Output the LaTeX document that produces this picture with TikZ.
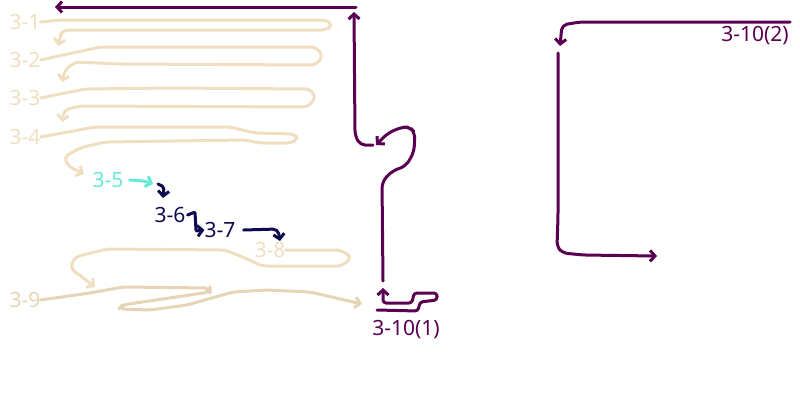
\documentclass[tikz,border=0pt]{standalone}
\usepackage{fontspec}
\setmainfont{Noto Sans}
\usepackage{tikz}
\usetikzlibrary{arrows.meta}
\definecolor{corbege}{RGB}{240,222,192}
\definecolor{cortan}{RGB}{230,212,182}
\definecolor{corciano}{RGB}{102,234,214}
\definecolor{cormarinho}{RGB}{14,10,78}
\definecolor{corroxo}{RGB}{90,0,82}

\begin{document}
\begin{tikzpicture}[
  x=1pt, y=-1pt,
  rotulo/.style={font=\fontsize{21}{24}\selectfont, inner sep=0pt},
  traco/.style={line width=3pt, rounded corners=5pt, line cap=round, line join=round},
  seta/.style={-{Straight Barb[length=5pt,width=11pt]}}
]
  \useasboundingbox (0,0) rectangle (800,400);

  \node[rotulo, text=corbege] (l31) at (25,22) {3-1};
  \node[rotulo, text=corbege] (l32) at (25,60) {3-2};
  \node[rotulo, text=corbege] (l33) at (25,98) {3-3};
  \node[rotulo, text=corbege] (l34) at (25,137) {3-4};
  \node[rotulo, text=corciano] (l35) at (108,180) {3-5};
  \node[rotulo, text=cormarinho] (l36) at (170,215) {3-6};
  \node[rotulo, text=cormarinho] (l37) at (220,230) {3-7};
  \node[rotulo, text=corbege] (l38) at (270,250) {3-8};
  \node[rotulo, text=cortan] (l39) at (25,300) {3-9};
  \node[rotulo, text=corroxo] (l3101) at (406,330) {3-10(1)};
  \node[rotulo, text=corroxo] (l3102) at (755,36) {3-10(2)};
  \coordinate (topo2) at (790,22);

  % zigue-zagues bege
  \draw[traco, seta, corbege] (l31.east) -- (60,20) -- (326,20) -- (333,25) -- (326,30)
    -- (62,30) -- (60,38) -- (58,46);
  \draw[traco, seta, corbege] (l32.east) -- (100,47) -- (316,47) -- (323,56) -- (316,65)
    -- (120,64) -- (75,62) -- (65,70) -- (62,82);
  \draw[traco, seta, corbege] (l33.east) -- (85,89) -- (170,88) -- (310,89) -- (316,97)
    -- (308,107) -- (80,106) -- (64,110) -- (62,122);
  \draw[traco, seta, corbege] (l34.east) -- (95,127) -- (230,127) -- (255,133) -- (295,134)
    -- (298,140) -- (290,143) -- (260,143) -- (245,140) -- (105,142) -- (80,148)
    -- (64,157) -- (68,166) -- (84,174);

  \draw[traco, seta, corciano] ([xshift=6pt]l35.east) -- (145,181) -- (153,184);
  \draw[traco, seta, cormarinho, rounded corners=2pt] (158,184) -- (164,187) -- (163,198);
  \draw[traco, seta, cormarinho, rounded corners=1pt] ([xshift=2pt]l36.east) -- (195,212)
    -- (196,231) -- (l37.west);
  \draw[traco, seta, cormarinho] ([xshift=8pt]l37.east) -- (278,229) -- (280,241);

  \draw[traco, seta, corbege] (l38.east) -- (340,250) -- (352,257) -- (342,266) -- (262,266)
    -- (245,258) -- (225,250) -- (107,249) -- (75,257) -- (70,268) -- (95,287);
  \draw[traco, seta, cortan] (l39.east) -- (90,293) -- (123,287) -- (210,288) -- (210,292)
    -- (122,305) -- (119,309) -- (150,310) -- (187,305) -- (233,292) -- (267,290)
    -- (310,292) -- (362,304);

  % 3-10 em roxo
  \draw[traco, seta, corroxo, rounded corners=3pt] (377,310) -- (418,311) -- (420,302)
    -- (437,300) -- (437,293) -- (414,293) -- (412,303) -- (383,303) -- (383,288);
  \draw[traco, seta, corroxo, rounded corners=6pt] (383,281) -- (382,182) -- (392,171)
    -- (406,166) -- (414,152) -- (415,133) -- (410,127) -- (402,127) -- (388,133) -- (376,145);
  \draw[traco, seta, corroxo] (373,145) -- (360,145) -- (355,135) -- (354,12);
  \draw[traco, seta, corroxo] (356,7) -- (55,7);
  \draw[traco, seta, corroxo] (topo2) -- (580,22) -- (562,25) -- (560,46);
  \draw[traco, seta, corroxo] (558,53) -- (558,217) -- (557,247) -- (563,253) -- (583,255)
    -- (657,256);
\end{tikzpicture}
\end{document}
